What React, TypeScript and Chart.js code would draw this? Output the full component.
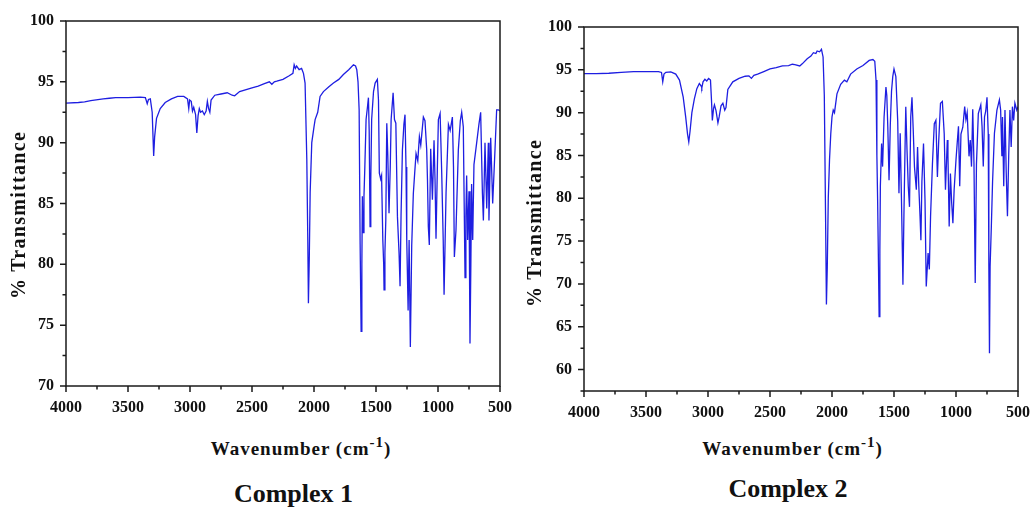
import React, { useEffect, useRef } from 'react';
import { Chart, registerables } from 'chart.js';

Chart.register(...registerables);

// ---------- data ----------
const xTicks = [4000, 3500, 3000, 2500, 2000, 1500, 1000, 500];
const yTicks1 = [70, 75, 80, 85, 90, 95, 100];
const yTicks2 = [60, 65, 70, 75, 80, 85, 90, 95, 100];

// Complex 1 : wavenumber (cm-1) / % transmittance
const wn1 = [
  4000, 3900, 3850, 3800, 3700, 3650, 3600, 3500, 3400, 3360, 3345, 3335, 3320, 3305, 3293, 3285, 3270, 3240, 3200, 3150,
  3100, 3050, 3020, 3010, 3003, 2990, 2980, 2970, 2955, 2945, 2935, 2925, 2915, 2900, 2885, 2870, 2860, 2850, 2840, 2830,
  2800, 2750, 2700, 2660, 2640, 2600, 2500, 2450, 2400, 2360, 2340, 2320, 2300, 2250, 2200, 2170, 2160, 2150, 2140, 2120,
  2100, 2085, 2072, 2058, 2050, 2045, 2038, 2031, 2018, 2000, 1991, 1970, 1951, 1924, 1880, 1843, 1800, 1763, 1720, 1682,
  1665, 1655, 1645, 1636, 1628, 1620, 1614, 1610, 1604, 1597, 1590, 1580, 1568, 1561, 1555, 1548, 1542, 1535, 1520, 1507,
  1489, 1480, 1473, 1462, 1455, 1445, 1438, 1435, 1428, 1421, 1413, 1405, 1395, 1385, 1378, 1362, 1351, 1340, 1327, 1314,
  1306, 1298, 1287, 1275, 1266, 1258, 1252, 1241, 1233, 1223, 1212, 1199, 1188, 1177, 1163, 1150, 1139, 1118, 1105, 1091,
  1085, 1078, 1070, 1059, 1045, 1032, 1024, 1016, 1005, 997, 983, 970, 958, 951, 935, 916, 902, 884, 875, 868,
  855, 836, 820, 809, 796, 782, 775, 769, 761, 750, 742, 735, 729, 720, 710, 688, 670, 656, 642, 634,
  621, 607, 594, 589, 575, 559, 540, 527, 514, 500,
];
const tr1 = [
  93.25, 93.3, 93.35, 93.45, 93.6, 93.65, 93.7, 93.7, 93.75, 93.7, 93.2, 93.55, 93.6, 92.5, 88.9, 90.5, 92.0, 92.8, 93.3, 93.6,
  93.8, 93.8, 93.6, 92.8, 93.5, 93.4, 92.6, 92.9, 92.3, 90.8, 92.2, 92.8, 92.5, 92.6, 92.3, 92.6, 93.4, 92.8, 92.5, 93.5,
  93.9, 94.0, 94.1, 93.9, 93.85, 94.2, 94.5, 94.65, 94.85, 95.0, 94.8, 95.0, 95.05, 95.2, 95.5, 95.7, 96.4, 96.1, 96.3, 96.0,
  96.1, 95.7, 94.9, 88.6, 82.0, 76.8, 80.5, 85.9, 90.0, 91.3, 91.9, 92.5, 93.8, 94.2, 94.6, 94.9, 95.2, 95.6, 96.0, 96.4,
  96.3, 96.0, 95.0, 92.7, 81.7, 74.5, 80.0, 85.6, 82.6, 85.6, 88.0, 91.9, 93.0, 93.7, 91.0, 83.1, 87.0, 91.9, 94.2, 94.9,
  95.2, 93.5, 87.5, 87.0, 87.3, 82.0, 80.0, 77.9, 81.0, 83.6, 91.6, 89.0, 84.2, 88.0, 91.9, 94.1, 91.9, 91.6, 83.9, 80.9,
  78.2, 84.0, 89.4, 91.5, 92.3, 88.0, 82.0, 76.2, 82.0, 73.2, 81.5, 85.8, 87.5, 89.1, 88.5, 90.5, 89.8, 92.1, 91.8, 89.4,
  87.0, 83.1, 81.6, 89.5, 85.3, 90.2, 87.0, 82.1, 88.0, 91.9, 92.4, 87.5, 82.0, 77.5, 85.9, 91.5, 91.0, 92.1, 88.0, 80.6,
  82.8, 89.4, 91.8, 92.5, 91.3, 78.9, 84.0, 87.3, 82.0, 86.0, 73.5, 80.0, 86.6, 82.0, 88.2, 90.0, 91.5, 92.5, 85.9, 83.6,
  90.0, 84.6, 90.0, 83.6, 90.4, 85.0, 89.5, 92.7, 92.7, 92.6,
];

// Complex 2 : wavenumber (cm-1) / % transmittance
const wn2 = [
  4000, 3900, 3800, 3700, 3600, 3500, 3400, 3375, 3365, 3355, 3340, 3300, 3260, 3230, 3200, 3180, 3165, 3155, 3145, 3130,
  3110, 3090, 3070, 3055, 3050, 3040, 3025, 3010, 2995, 2980, 2972, 2965, 2955, 2948, 2935, 2920, 2910, 2895, 2880, 2865,
  2855, 2840, 2800, 2750, 2700, 2670, 2650, 2630, 2600, 2550, 2500, 2450, 2400, 2350, 2320, 2300, 2260, 2240, 2200, 2170,
  2150, 2130, 2120, 2100, 2085, 2072, 2062, 2052, 2045, 2038, 2030, 2020, 2010, 2000, 1990, 1980, 1960, 1930, 1900, 1880,
  1850, 1800, 1750, 1700, 1670, 1655, 1645, 1638, 1632, 1625, 1620, 1614, 1610, 1600, 1592, 1580, 1565, 1558, 1550, 1540,
  1530, 1520, 1510, 1500, 1485, 1470, 1460, 1450, 1440, 1428, 1420, 1412, 1405, 1395, 1385, 1375, 1365, 1355, 1345, 1335,
  1320, 1310, 1300, 1290, 1283, 1275, 1262, 1250, 1240, 1225, 1215, 1205, 1190, 1175, 1162, 1150, 1140, 1125, 1110, 1095,
  1085, 1070, 1065, 1055, 1045, 1035, 1025, 1015, 1000, 990, 980, 970, 960, 945, 930, 920, 910, 895, 885, 875,
  865, 855, 845, 835, 820, 800, 790, 780, 770, 760, 750, 740, 735, 730, 725, 715, 705, 690, 670, 650,
  640, 630, 625, 615, 605, 595, 585, 575, 565, 555, 545, 535, 525, 510, 500,
];
const tr2 = [
  94.55, 94.55, 94.6, 94.7, 94.8, 94.8, 94.8, 94.7, 93.6, 94.5, 94.7, 94.75, 94.5, 93.8, 91.8, 89.5, 87.5, 86.6, 87.8, 90.0,
  91.6, 92.8, 93.4, 93.1, 92.9, 93.6, 93.9, 93.7, 94.0, 93.8, 91.5, 89.1, 90.5, 90.9, 90.2, 88.8, 89.5, 90.8, 91.1, 90.3,
  90.6, 92.7, 93.6, 94.0, 94.25, 94.3, 94.0, 94.35, 94.5, 94.8, 95.1, 95.25, 95.45, 95.5, 95.65, 95.6, 95.45, 95.7, 96.3, 96.6,
  97.0, 96.9, 97.2, 97.1, 97.4, 96.5, 92.0, 78.0, 67.6, 72.0, 80.0, 84.5, 87.5, 89.5, 90.3, 90.0, 92.2, 93.3, 93.8, 93.6,
  94.5, 95.1, 95.5, 96.1, 96.2, 96.0, 93.8, 85.0, 79.8, 72.0, 66.2, 74.0, 81.4, 86.4, 83.7, 89.5, 93.0, 92.0, 88.35, 82.1,
  88.5, 92.5, 94.2, 95.1, 94.2, 89.0, 80.6, 87.6, 80.0, 69.9, 78.0, 85.0, 90.7, 85.6, 81.4, 79.0, 89.5, 91.8, 88.0, 83.7,
  81.0, 86.0, 81.4, 77.9, 75.1, 82.0, 86.4, 79.8, 69.7, 73.6, 71.7, 78.0, 84.0, 88.7, 89.1, 82.5, 86.5, 91.1, 91.3, 87.5,
  81.0, 86.8, 85.0, 76.7, 82.9, 79.5, 77.1, 81.0, 84.5, 86.5, 88.4, 81.4, 87.5, 88.3, 90.7, 89.2, 90.0, 84.9, 86.8, 83.7,
  90.4, 84.0, 70.1, 84.0, 89.9, 90.9, 88.4, 83.7, 89.5, 90.2, 91.8, 87.5, 72.0, 61.9, 72.0, 76.7, 82.0, 87.6, 90.3, 91.5,
  90.3, 84.9, 89.5, 81.4, 90.3, 83.0, 77.9, 84.9, 90.3, 86.0, 90.7, 89.1, 91.1, 90.3, 90.7,
];

// ---------- styling ----------
const SERIF = '"Liberation Serif", "Times New Roman", serif';
const LINE_COLOR = 'rgb(30, 30, 225)';
const AXIS_COLOR = '#1a1a1a';

const framePlugin = {
  id: 'frame',
  afterDatasetsDraw(chart: any) {
    const { ctx, chartArea: a, scales } = chart;
    const xs = scales.x;
    const ys = scales.y;
    ctx.save();
    ctx.strokeStyle = AXIS_COLOR;
    ctx.lineWidth = 1.5;
    ctx.strokeRect(a.left, a.top, a.right - a.left, a.bottom - a.top);
    ctx.beginPath();
    for (let v = xs.min; v <= xs.max + 1e-6; v += 250) {
      const p = xs.getPixelForValue(v);
      const len = Math.abs(v % 500) < 1e-6 ? 6 : 3.5;
      ctx.moveTo(p, a.bottom);
      ctx.lineTo(p, a.bottom + len);
    }
    for (let v = ys.min; v <= ys.max + 1e-6; v += 2.5) {
      const p = ys.getPixelForValue(v);
      const len = Math.abs(v % 5) < 1e-6 ? 6 : 3.5;
      ctx.moveTo(a.left, p);
      ctx.lineTo(a.left - len, p);
    }
    ctx.stroke();
    ctx.restore();
  },
};

type SpecProps = {
  left: number;
  width: number;
  height: number;
  wn: number[];
  tr: number[];
  yMin: number;
  yMax: number;
  yTicks: number[];
  padTop: number;
  padRight: number;
  yWidth: number;
  xHeight: number;
};

function Spectrum(p: SpecProps) {
  const ref = useRef<HTMLCanvasElement | null>(null);
  useEffect(() => {
    if (!ref.current) return;
    const tickFont = { family: SERIF, size: 16, weight: 'bold' as const };
    const chart = new Chart(ref.current, {
      type: 'line',
      data: {
        datasets: [
          {
            data: p.wn.map((w, i) => ({ x: w, y: p.tr[i] })),
            borderColor: LINE_COLOR,
            borderWidth: 1.3,
            pointRadius: 0,
            tension: 0,
            fill: false,
          },
        ],
      },
      options: {
        animation: false,
        responsive: false,
        devicePixelRatio: 1,
        layout: { padding: { left: 0, right: p.padRight, top: p.padTop, bottom: 0 } },
        plugins: { legend: { display: false }, tooltip: { enabled: false }, title: { display: false } },
        scales: {
          x: {
            type: 'linear',
            min: 500,
            max: 4000,
            reverse: true,
            grid: { display: false, drawTicks: false, tickLength: 0 },
            border: { display: false },
            afterBuildTicks: (s: any) => {
              s.ticks = xTicks.map((v) => ({ value: v }));
            },
            afterFit: (s: any) => {
              s.height = p.xHeight;
              s.paddingLeft = 0;
              s.paddingRight = 0;
            },
            ticks: {
              font: tickFont,
              color: '#111',
              padding: 12,
              maxRotation: 0,
              autoSkip: false,
              callback: (v: any) => String(v),
            },
          },
          y: {
            type: 'linear',
            min: p.yMin,
            max: p.yMax,
            grid: { display: false, drawTicks: false, tickLength: 0 },
            border: { display: false },
            afterBuildTicks: (s: any) => {
              s.ticks = p.yTicks.map((v) => ({ value: v }));
            },
            afterFit: (s: any) => {
              s.width = p.yWidth;
              s.paddingTop = 0;
              s.paddingBottom = 0;
            },
            ticks: { font: tickFont, color: '#111', padding: 12, autoSkip: false, callback: (v: any) => String(v) },
          },
        },
      },
      plugins: [framePlugin],
    } as any);
    return () => chart.destroy();
  }, []);
  return (
    <canvas
      ref={ref}
      width={p.width}
      height={p.height}
      style={{ position: 'absolute', left: p.left, top: 0, width: p.width, height: p.height }}
    />
  );
}

function XTitle({ cx, top }: { cx: number; top: number }) {
  return (
    <div
      style={{
        position: 'absolute',
        left: cx - 150,
        top,
        width: 300,
        textAlign: 'center',
        fontFamily: SERIF,
        fontWeight: 'bold',
        fontSize: 19,
        lineHeight: '19px',
        letterSpacing: 1,
        color: '#111',
        whiteSpace: 'nowrap',
      }}
    >
      Wavenumber (cm
      <span style={{ position: 'relative', top: -8, fontSize: 15 }}>-1</span>)
    </div>
  );
}

function YTitle({ cx, cy }: { cx: number; cy: number }) {
  return (
    <div
      style={{
        position: 'absolute',
        left: cx - 120,
        top: cy - 10,
        width: 240,
        height: 20,
        textAlign: 'center',
        fontFamily: SERIF,
        fontWeight: 'bold',
        fontSize: 20,
        lineHeight: '20px',
        letterSpacing: 1.3,
        color: '#111',
        whiteSpace: 'nowrap',
        transform: 'rotate(-90deg)',
        transformOrigin: '50% 50%',
      }}
    >
      % Transmittance
    </div>
  );
}

function Caption({ cx, top, text }: { cx: number; top: number; text: string }) {
  return (
    <div
      style={{
        position: 'absolute',
        left: cx - 120,
        top,
        width: 240,
        textAlign: 'center',
        fontFamily: SERIF,
        fontWeight: 'bold',
        fontSize: 26,
        lineHeight: '26px',
        color: '#111',
        whiteSpace: 'nowrap',
      }}
    >
      {text}
    </div>
  );
}

export default function App() {
  return (
    <div style={{ position: 'absolute', left: 0, top: 0, width: 1033, height: 508, background: '#fff', overflow: 'hidden' }}>
      <Spectrum left={0} width={515} height={420} wn={wn1} tr={tr1} yMin={70} yMax={100} yTicks={yTicks1} padTop={21} padRight={15} yWidth={66} xHeight={34} />
      <Spectrum left={515} width={518} height={425} wn={wn2} tr={tr2} yMin={57.5} yMax={100} yTicks={yTicks2} padTop={27} padRight={15} yWidth={69} xHeight={34} />
      <YTitle cx={17.5} cy={215} />
      <YTitle cx={534} cy={222.5} />
      <XTitle cx={301} top={439} />
      <XTitle cx={792.6} top={439} />
      <Caption cx={293.5} top={481} text="Complex 1" />
      <Caption cx={788} top={476} text="Complex 2" />
    </div>
  );
}
